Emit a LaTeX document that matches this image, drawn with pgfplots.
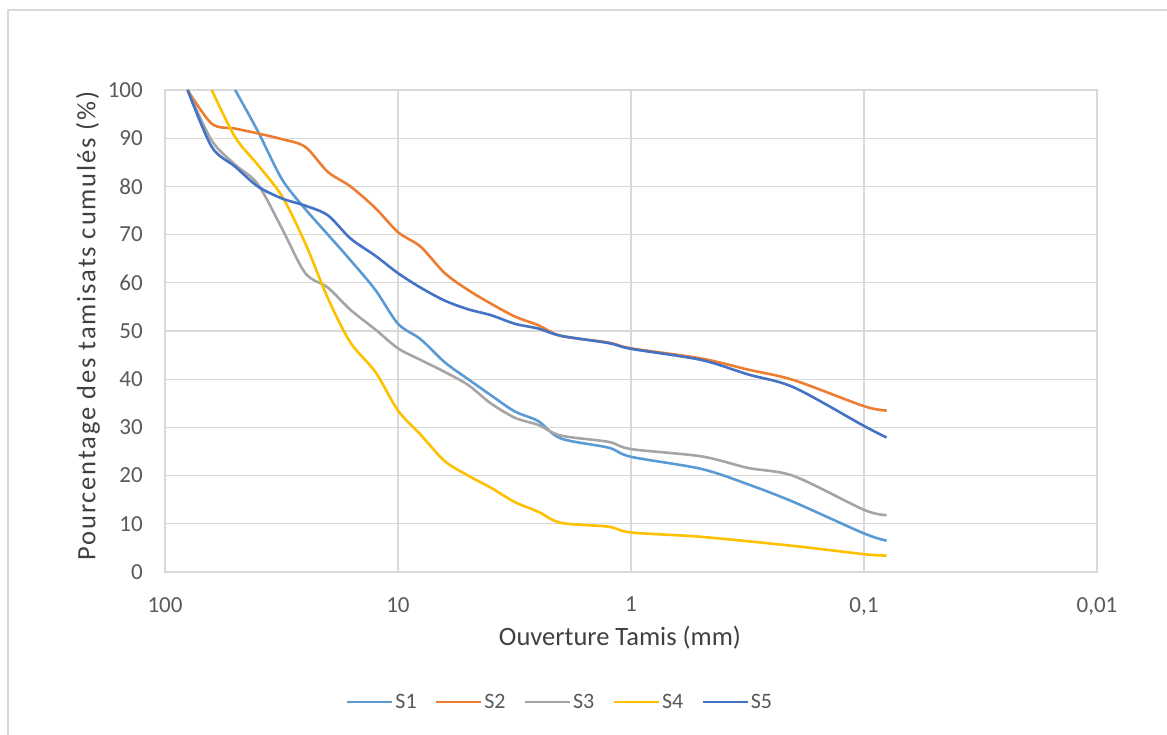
\documentclass[border=0pt]{standalone}
\usepackage{pgfplots}
\pgfplotsset{compat=1.18}
\usepackage{fontspec}
\setmainfont{Carlito}
\newfontfamily\ylabfont[LetterSpace=7]{Carlito}
\definecolor{cA}{HTML}{5B9BD5}
\definecolor{cB}{HTML}{ED7D31}
\definecolor{cC}{HTML}{A5A5A5}
\definecolor{cD}{HTML}{FFC000}
\definecolor{cE}{HTML}{4472C4}
\definecolor{gridc}{HTML}{D9D9D9}
\definecolor{tickc}{HTML}{595959}
\definecolor{titc}{HTML}{404040}
\begin{document}
\begin{tikzpicture}[x=1pt,y=1pt]
\useasboundingbox (0,0) rectangle (1167,735);
\draw[gridc, line width=1.5pt] (8,-20) rectangle (1200,725);
\begin{axis}[
  at={(165pt,163pt)}, anchor=south west,
  scale only axis, width=932pt, height=482pt,
  xmode=log, x dir=reverse,
  xmin=0.01, xmax=100, ymin=0, ymax=100,
  xtick={0.01,0.1,1,10,100},
  xticklabels={{0,01},{0,1},{1},{10},{100}},
  ytick={0,10,...,100},
  major tick length=0pt, minor tick length=0pt,
  /pgf/number format/assume math mode=true,
  grid=major,
  grid style={gridc, line width=1.3pt},
  axis line style={gridc, line width=1.3pt},
  xticklabel style={inner sep=0pt, anchor=north, yshift=-25pt, font=\fontsize{23}{27}\selectfont, text=tickc},
  yticklabel style={inner sep=0pt, anchor=east, xshift=-22pt, font=\fontsize{23}{27}\selectfont, text=tickc},
  xlabel={Ouverture Tamis (mm)},
  ylabel={Pourcentage des tamisats cumulés (\%)},
  every axis x label/.style={at={(axis description cs:0.5,0)}, anchor=center, xshift=-11pt, yshift=-66pt, font=\fontsize{26.5}{30}\selectfont, text=titc},
  every axis y label/.style={at={(axis description cs:0,0.5)}, xshift=-77pt, yshift=5pt, rotate=90, anchor=center, font=\ylabfont\fontsize{26.5}{30}\selectfont, text=titc},
  legend columns=5,
  legend style={at={(axis description cs:0.4238,-0.2697)}, anchor=center, draw=none, fill=none,
    font=\fontsize{22}{26}\selectfont, text=tickc,
    /tikz/every even column/.append style={column sep=16pt}},
  legend image code/.code={\draw[#1] (0pt,0pt) -- (45pt,0pt);},
  every axis plot/.append style={line width=2.6pt, smooth, no markers},
]
\addplot[cA] coordinates {(50,100)(40,91.5)(31.5,81.5)(25,75.3)(20,70)(16,64.7)(12.5,58.5)(10,51.5)(8,48.3)(6.3,43.5)(5,40)(4,36.7)(3.15,33.3)(2.5,31.3)(2,27.7)(1.25,25.8)(1,23.9)(0.5,21.4)(0.315,18.2)(0.2,14.5)(0.1,8)(0.08,6.5)};
\addlegendentry{S1}
\addplot[cB] coordinates {(80,100)(63,93)(50,92)(40,91)(31.5,89.8)(25,88.2)(20,83)(16,80)(12.5,75.5)(10,70.5)(8,67.5)(6.3,62)(5,58.5)(4,55.7)(3.15,53)(2.5,51.2)(2,49)(1.25,47.6)(1,46.4)(0.5,44.3)(0.315,42)(0.2,39.8)(0.1,34.4)(0.08,33.5)};
\addlegendentry{S2}
\addplot[cC] coordinates {(80,100)(63,89.5)(50,84.5)(40,80.5)(31.5,71.3)(25,62)(20,59)(16,54.4)(12.5,50.3)(10,46.4)(8,44)(6.3,41.5)(5,38.8)(4,35)(3.15,32)(2.5,30.5)(2,28.3)(1.25,27)(1,25.5)(0.5,24)(0.315,21.6)(0.2,19.9)(0.1,12.9)(0.08,11.8)};
\addlegendentry{S3}
\addplot[cD] coordinates {(63,100)(50,90.2)(40,84.5)(31.5,78)(25,68.2)(20,56.8)(16,47.6)(12.5,41.5)(10,33.5)(8,28.5)(6.3,23)(5,20)(4,17.5)(3.15,14.5)(2.5,12.5)(2,10.2)(1.25,9.4)(1,8.2)(0.5,7.3)(0.2,5.4)(0.1,3.7)(0.08,3.4)};
\addlegendentry{S4}
\addplot[cE] coordinates {(80,100)(63,88.2)(50,84.1)(40,80)(31.5,77.5)(25,76)(20,74)(16,69.2)(12.5,65.6)(10,62)(8,59)(6.3,56.3)(5,54.5)(4,53.3)(3.15,51.5)(2.5,50.5)(2,49)(1.25,47.5)(1,46.3)(0.5,44)(0.315,41)(0.2,38.3)(0.1,30.3)(0.08,27.9)};
\addlegendentry{S5}
\end{axis}
\end{tikzpicture}
\end{document}
